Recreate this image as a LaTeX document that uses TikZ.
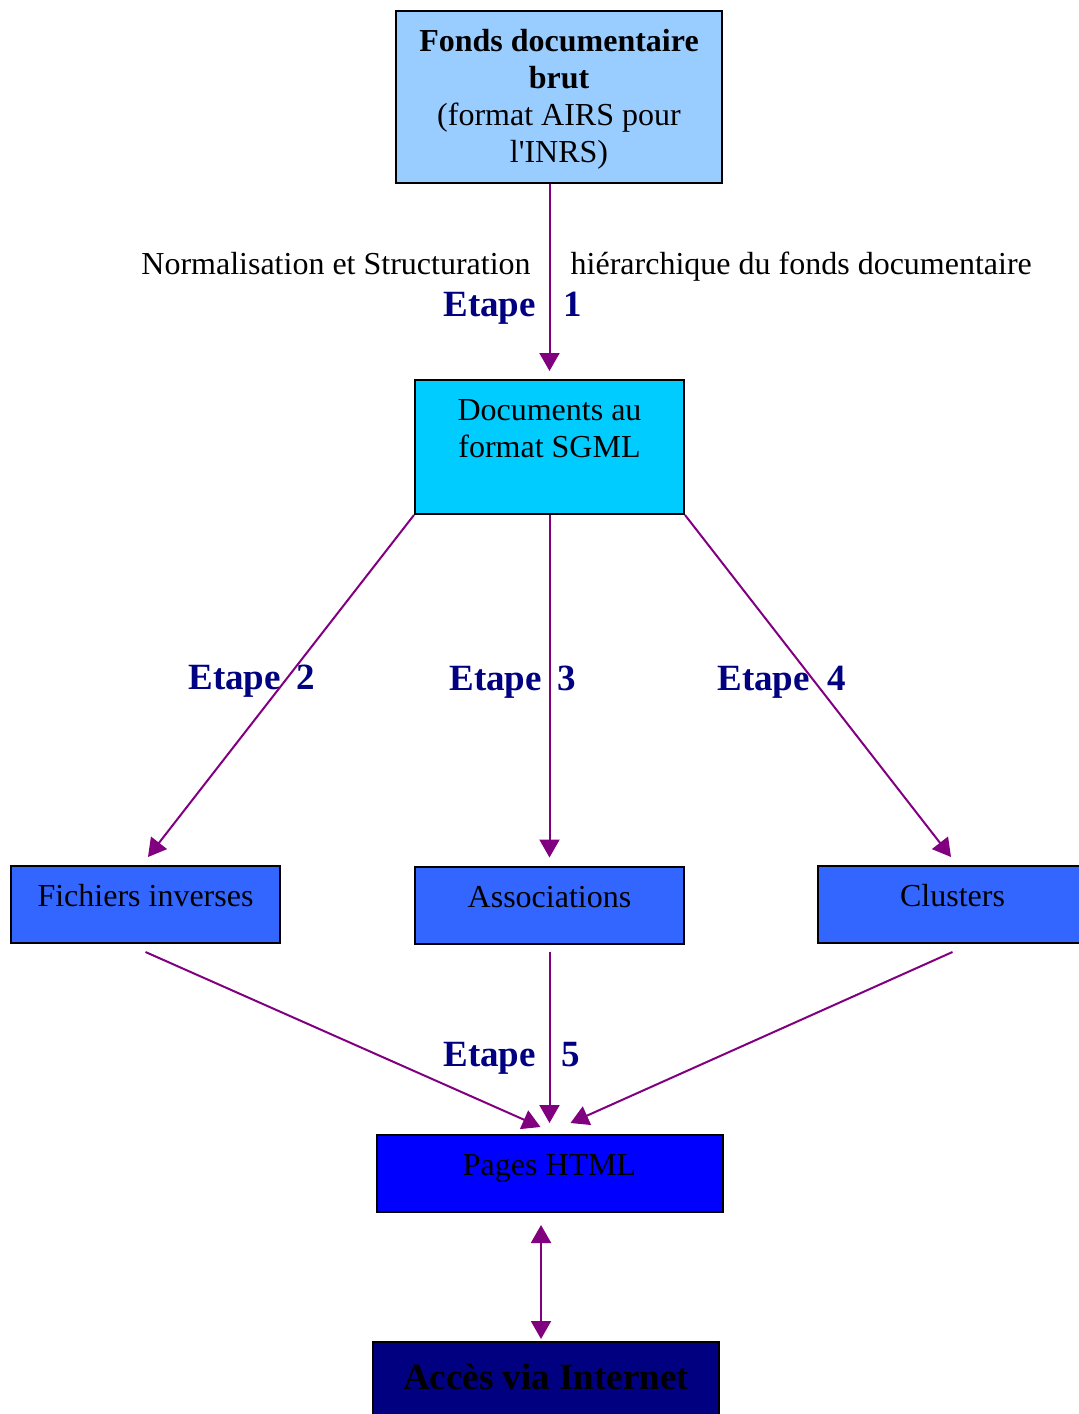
\documentclass[tikz,border=0pt]{standalone}
\usepackage{fontspec}
\setmainfont{Liberation Serif}
\usepackage{xcolor}
\usetikzlibrary{arrows.meta}
\definecolor{fondsblue}{HTML}{99CCFF}
\definecolor{sgmlblue}{HTML}{00CCFF}
\definecolor{midblue}{HTML}{3366FF}
\definecolor{pureblue}{HTML}{0000FF}
\definecolor{navyfill}{HTML}{000080}
\definecolor{arrpurple}{HTML}{800080}

\begin{document}
\begin{tikzpicture}[
  x=0.5pt, y=-0.5pt,
  font=\fontsize{16pt}{18.5pt}\selectfont,
  >={Triangle[length=9pt,width=10pt]},
  box/.style={draw, line width=1pt, align=center, inner sep=0pt},
  lowbox/.style={box, fill=midblue, minimum width=134.5pt, minimum height=38.5pt, text height=11pt, text depth=9pt},
  arr/.style={->, draw=arrpurple, fill=arrpurple, line width=1pt},
  etape/.style={anchor=base west, inner sep=0pt, text=navyfill, font=\fontsize{18.5pt}{20pt}\selectfont\bfseries}
]
\useasboundingbox (0,0) rectangle (1079,1414);
\node[box, fill=fondsblue, minimum width=163pt, minimum height=86pt, text depth=1.5pt] (fonds) at (559,97) {\textbf{Fonds documentaire}\\\textbf{brut}\\(format AIRS pour\\l\textquotesingle INRS)};
\node[box, fill=sgmlblue, minimum width=134.5pt, minimum height=67pt, text height=29.5pt, text depth=19pt] (sgml) at (549.5,447) {Documents au\\format SGML};
\node[lowbox] (fich) at (145.5,904.5) {Fichiers inverses};
\node[lowbox] (assoc) at (549.5,905) {Associations};
\node[lowbox] (clust) at (952.5,904.5) {Clusters};
\node[lowbox, fill=pureblue, minimum width=173pt] (pages) at (549.5,1173.5) {Pages HTML};
\node[box, fill=navyfill, minimum width=173pt, minimum height=38.5pt, text height=12pt, text depth=3.5pt, font=\fontsize{18.5pt}{20pt}\selectfont\bfseries] (acces) at (546,1380.5) {Accès via Internet};

\node[anchor=base west, inner sep=0pt] (norm) at (141,274) {Normalisation et Structuration\hspace{20pt}hiérarchique du fonds documentaire};
\node[etape] (et1) at (443,316) {Etape\hspace{14pt}1};
\node[etape] (et2) at (188,689) {Etape\hspace{8pt}2};
\node[etape] (et3) at (449,690) {Etape\hspace{8pt}3};
\node[etape] (et4) at (717,690) {Etape\hspace{9pt}4};
\node[etape] (et5) at (443,1066) {Etape\hspace{13pt}5};

\draw[arr] (fonds.south -| sgml.north) -- ([yshift=4pt]sgml.north);
\draw[arr] (sgml.south west) -- ([shift={(1.25pt,4pt)}]fich.north);
\draw[arr] (sgml.south) -- ([yshift=4pt]assoc.north);
\draw[arr] (sgml.south east) -- ([shift={(-0.75pt,4pt)}]clust.north);
\draw[arr] ([yshift=-4pt]fich.south) -- ([shift={(-4.5pt,3.5pt)}]pages.north);
\draw[arr] ([yshift=-3.5pt]assoc.south) -- ([yshift=5.5pt]pages.north);
\draw[arr] ([yshift=-4pt]clust.south) -- ([shift={(10.5pt,5.5pt)}]pages.north);
\draw[arr, <->] ([shift={(-4.25pt,-6pt)}]pages.south) -- ([shift={(-2.5pt,1pt)}]acces.north);
\end{tikzpicture}
\end{document}
